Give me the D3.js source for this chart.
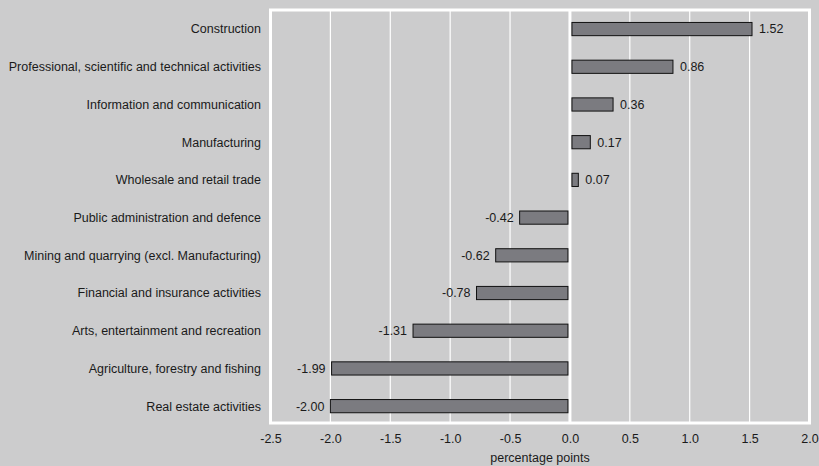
<!DOCTYPE html>
<html>
<head>
<meta charset="utf-8">
<script src="https://cdn.jsdelivr.net/npm/d3@7"></script>
<style>
  html, body { margin: 0; padding: 0; background: #cccccd; }
  svg { display: block; font-family: "Liberation Sans", Arial, sans-serif; }
</style>
</head>
<body>
<svg id="chart" width="819" height="466"></svg>
<script>
// Contribution by activity, percentage points
const categories = [
  "Construction",
  "Professional, scientific and technical activities",
  "Information and communication",
  "Manufacturing",
  "Wholesale and retail trade",
  "Public administration and defence",
  "Mining and quarrying (excl. Manufacturing)",
  "Financial and insurance activities",
  "Arts, entertainment and recreation",
  "Agriculture, forestry and fishing",
  "Real estate activities"
];
const values = [1.52, 0.86, 0.36, 0.17, 0.07, -0.42, -0.62, -0.78, -1.31, -1.99, -2.00];
const xTicks = [-2.5, -2.0, -1.5, -1.0, -0.5, 0.0, 0.5, 1.0, 1.5, 2.0];
const axisTitle = "percentage points";

const svg = d3.select("#chart");
const W = 819, H = 466;
const m = { left: 270.5, right: 10, top: 10, bottom: 43 };
const FS = 12.5;
const fmt = d => d.toFixed(1);   // plain hyphen minus

const x = d3.scaleLinear().domain([-2.5, 2.0]).range([m.left, W - m.right + 0.5]);
const y = d3.scaleBand().domain(categories).range([10.2, 425]).paddingInner(0.65).paddingOuter(0.325);

// vertical gridlines
svg.append("g").selectAll("line").data(xTicks.slice(1, -1)).join("line")
  .attr("x1", d => x(d)).attr("x2", d => x(d))
  .attr("y1", m.top).attr("y2", H - m.bottom)
  .attr("stroke", "#ffffff")
  .attr("stroke-width", d => d === 0 ? 3 : 1.2);

// plot frame
svg.append("rect")
  .attr("x", x(-2.5)).attr("y", m.top)
  .attr("width", x(2.0) - x(-2.5)).attr("height", H - m.bottom - m.top)
  .attr("fill", "none").attr("stroke", "#ffffff").attr("stroke-width", 3);

// bars
svg.append("g").selectAll("rect").data(values).join("rect")
  .attr("x", d => d >= 0 ? x(0) + 2 : x(d))
  .attr("y", (d, i) => y(categories[i]))
  .attr("width", d => Math.abs(x(d) - x(0)) - 2)
  .attr("height", y.bandwidth())
  .attr("fill", "#7b7b80")
  .attr("stroke", "#111111")
  .attr("stroke-width", 1);

// value labels
svg.append("g").selectAll("text").data(values).join("text")
  .attr("x", d => d >= 0 ? x(d) + 7 : x(d) - 6)
  .attr("y", (d, i) => y(categories[i]) + y.bandwidth() / 2)
  .attr("dy", "0.35em")
  .attr("text-anchor", d => d >= 0 ? "start" : "end")
  .attr("font-size", FS)
  .attr("fill", "#1a1a1a")
  .text(d => d.toFixed(2));

// category labels
svg.append("g").selectAll("text").data(categories).join("text")
  .attr("x", 261)
  .attr("y", d => y(d) + y.bandwidth() / 2)
  .attr("dy", "0.35em")
  .attr("text-anchor", "end")
  .attr("font-size", FS)
  .attr("fill", "#1a1a1a")
  .text(d => d);

// x axis tick labels
const xAxis = d3.axisBottom(x).tickValues(xTicks).tickFormat(fmt).tickSize(0).tickPadding(11);
const gx = svg.append("g").attr("transform", `translate(0,${H - m.bottom})`).call(xAxis);
gx.select(".domain").remove();
gx.selectAll("text").attr("font-size", FS).attr("fill", "#1a1a1a")
  .attr("font-family", "'Liberation Sans', Arial, sans-serif");

// axis title
svg.append("text")
  .attr("x", (x(-2.5) + x(2.0)) / 2)
  .attr("y", 462)
  .attr("text-anchor", "middle")
  .attr("font-size", FS)
  .attr("fill", "#1a1a1a")
  .text(axisTitle);
</script>
</body>
</html>
